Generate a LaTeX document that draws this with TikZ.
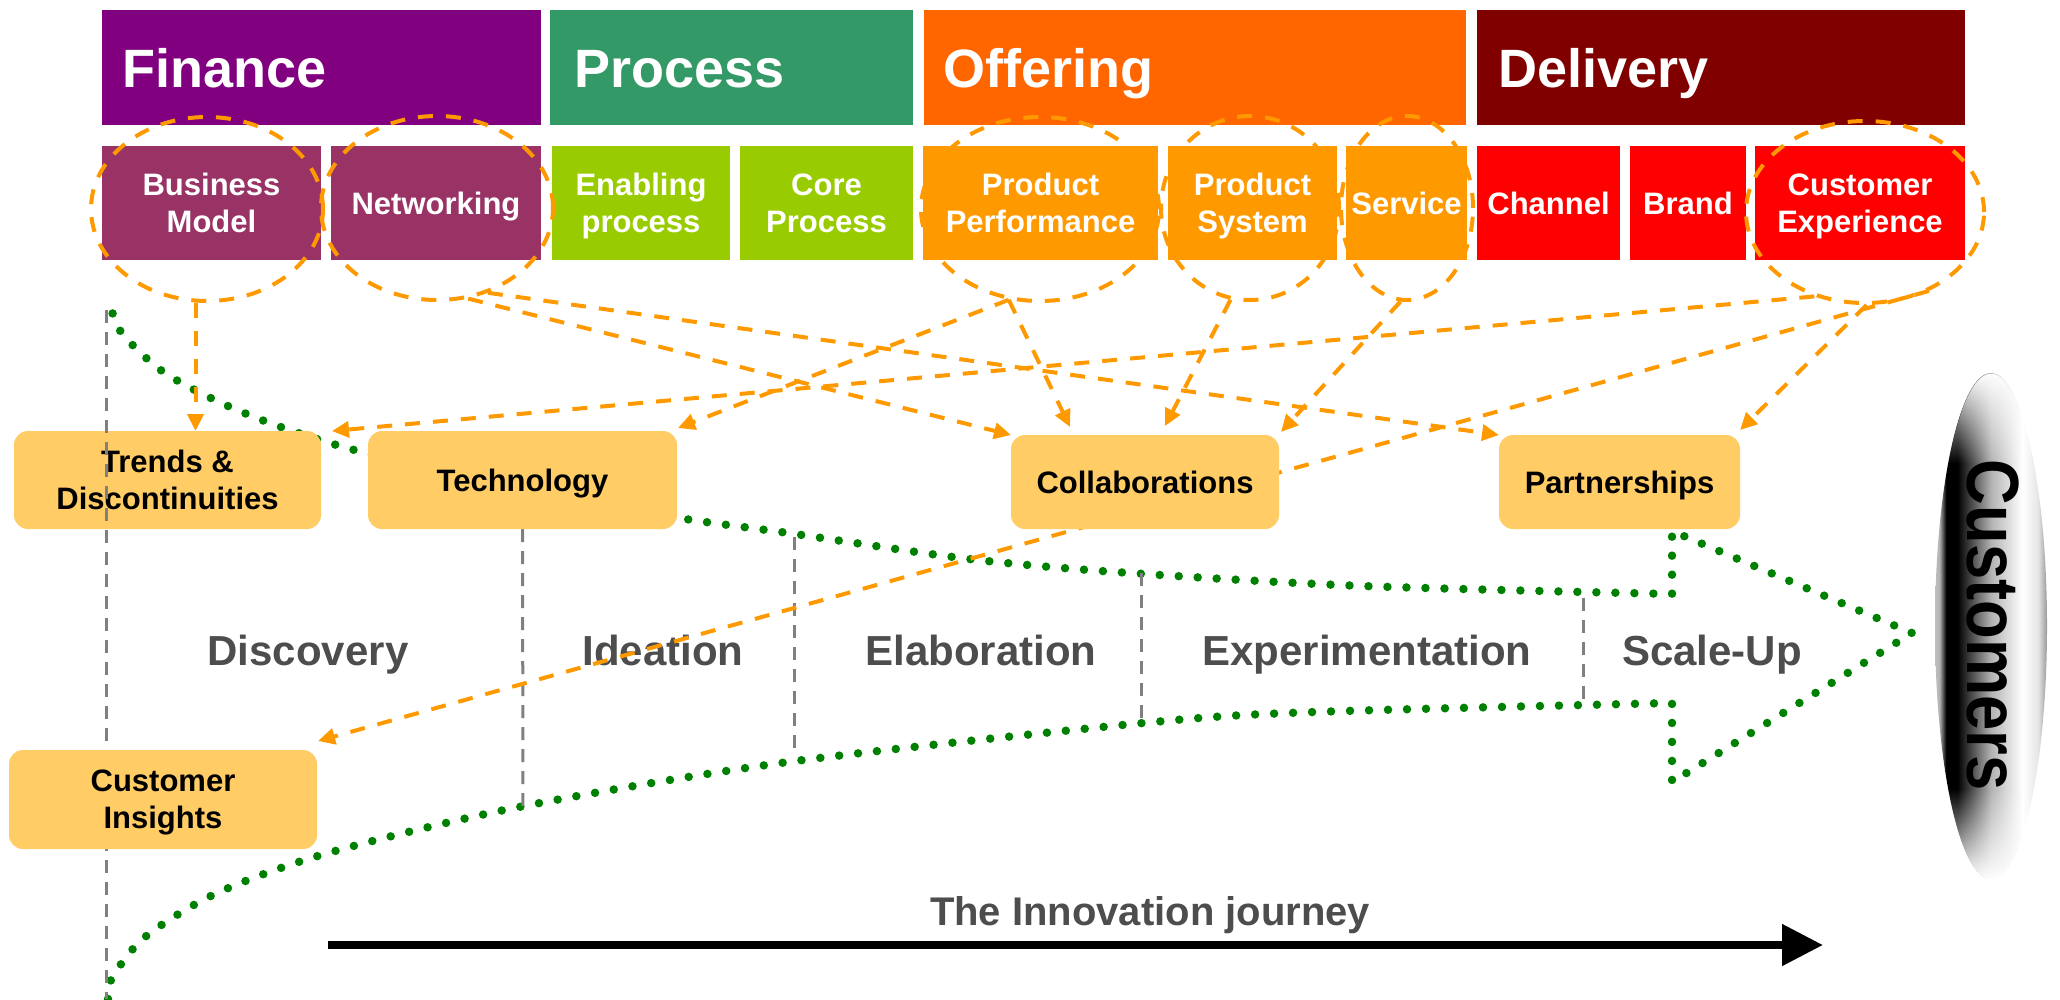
\documentclass[tikz,border=0pt]{standalone}
\usepackage{fontspec}
\setmainfont{Liberation Sans}
\usetikzlibrary{arrows.meta,shapes.geometric,fadings}
\definecolor{cFin}{HTML}{800080}
\definecolor{cProc}{HTML}{339966}
\definecolor{cOff}{HTML}{FF6600}
\definecolor{cDel}{HTML}{800000}
\definecolor{cFinS}{HTML}{993366}
\definecolor{cProcS}{HTML}{99CC00}
\definecolor{cOffS}{HTML}{FF9900}
\definecolor{cDelS}{HTML}{FF0000}
\definecolor{cY}{HTML}{FFCC66}
\definecolor{cOr}{HTML}{FF9900}
\definecolor{cGreen}{HTML}{008000}
\definecolor{cGray}{HTML}{808080}
\definecolor{cTxt}{HTML}{4D4D4D}
\pgfdeclarelayer{back}
\pgfdeclarelayer{mid}
\pgfdeclarelayer{front}
\pgfsetlayers{back,mid,main,front}
\pgfdeclarehorizontalshading{custshade}{100bp}{color(0bp)=(white); color(25bp)=(white!75!black); color(27bp)=(gray!60); color(30bp)=(black); color(35bp)=(black); color(50bp)=(gray!60); color(64bp)=(white); color(71bp)=(white!90!black); color(75bp)=(white!60!black); color(100bp)=(white)}
\pgfdeclareverticalshading{endfadesh}{100bp}{color(0bp)=(white); color(25bp)=(white); color(34bp)=(black); color(66bp)=(black); color(75bp)=(white); color(100bp)=(white)}
\pgfdeclarefading{endfade}{\pgfuseshading{endfadesh}}
\newcommand{\hdrfont}{\bfseries\fontsize{54pt}{60pt}\selectfont}
\newcommand{\subfont}{\bfseries\fontsize{31pt}{37pt}\selectfont}
\newcommand{\stfont}{\bfseries\fontsize{42pt}{50pt}\selectfont}
\tikzset{
  hdr/.style={anchor=north west, inner sep=0pt, outer sep=0pt},
  hdrtext/.style={anchor=base west, text=white, font=\hdrfont, inner sep=0pt},
  subbox/.style={anchor=north west, inner sep=0pt, outer sep=0pt, text=white, align=center, font=\subfont, text depth=0pt},
  ybox/.style={anchor=north west, fill=cY, rounded corners=14pt, inner sep=0pt, outer sep=0pt, align=center, font=\subfont, text=black, text depth=0pt},
  oell/.style={ellipse, draw=cOr, line width=4pt, dash pattern=on 15pt off 13pt, inner sep=0pt},
  oarr/.style={draw=cOr, line width=4pt, dash pattern=on 15pt off 13pt, -{Triangle[length=17pt,width=16pt]}},
  gdash/.style={draw=cGray, line width=3pt, dash pattern=on 13pt off 9pt},
  gdot/.style={draw=cGreen, line width=8.5pt, dash pattern=on 0pt off 19pt, line cap=round},
  stage/.style={anchor=base, text=cTxt, font=\stfont, inner sep=0pt},
}
\begin{document}
\begin{tikzpicture}[x=1pt,y=-1pt]
\useasboundingbox (0,0) rectangle (2060,999);
\begin{pgfonlayer}{back}
% header row
\node[hdr, fill=cFin, minimum width=439pt, minimum height=115pt] (finH) at (102,10) {};
\node[hdr, fill=cProc, minimum width=363pt, minimum height=115pt] (procH) at (550,10) {};
\node[hdr, fill=cOff, minimum width=542pt, minimum height=115pt] (offH) at (924,10) {};
\node[hdr, fill=cDel, minimum width=488pt, minimum height=115pt] (delH) at (1477,10) {};
\node[hdrtext] (finT) at (122,87) {Finance};
\node[hdrtext] (procT) at (574,87) {Process};
\node[hdrtext] (offT) at (943,87) {Offering};
\node[hdrtext] (delT) at (1498,87) {Delivery};
% sub row
\node[subbox, fill=cFinS, minimum width=219pt, minimum height=114pt] (bm) at (102,146) {Business\\Model};
\node[subbox, fill=cFinS, minimum width=210pt, minimum height=114pt] (nw) at (331,146) {Networking};
\node[subbox, fill=cProcS, minimum width=178pt, minimum height=114pt] (ep) at (552,146) {Enabling\\process};
\node[subbox, fill=cProcS, minimum width=173pt, minimum height=114pt] (cp) at (740,146) {Core\\Process};
\node[subbox, fill=cOffS, minimum width=235pt, minimum height=114pt] (pp) at (923,146) {Product\\Performance};
\node[subbox, fill=cOffS, minimum width=169pt, minimum height=114pt] (ps) at (1168,146) {Product\\System};
\node[subbox, fill=cOffS, minimum width=121pt, minimum height=114pt] (sv) at (1346,146) {Service};
\node[subbox, fill=cDelS, minimum width=143pt, minimum height=114pt] (ch) at (1477,146) {Channel};
\node[subbox, fill=cDelS, minimum width=116pt, minimum height=114pt] (br) at (1630,146) {Brand};
\node[subbox, fill=cDelS, minimum width=210pt, minimum height=114pt] (ce) at (1755,146) {Customer\\Experience};
% stage labels
\node[stage] (sDisc) at (308,665) {Discovery};
\node[stage] (sIdea) at (663,665) {Ideation};
\node[stage] (sElab) at (981,665) {Elaboration};
\node[stage] (sExp) at (1367,665) {Experimentation};
\node[stage] (sScale) at (1712,665) {Scale-Up};
% innovation journey
\node[anchor=base, text=cTxt, font=\bfseries\fontsize{40pt}{48pt}\selectfont, inner sep=0pt] (jour) at (1150,925) {The Innovation journey};
\coordinate (arrS) at (328,945);
\coordinate (arrE) at (1823,945);
\draw[line width=8pt, -{Triangle[length=41pt,width=40pt]}] (arrS) -- (arrE);
% green dotted arrow shape
\draw[gdot] plot[smooth] coordinates {(108,999) (112,978) (145,937) (217,893) (328,853) (519,807) (788,762) (1143,723) (1314,712) (1672,703)}
  -- (1672,782) -- (1912,633) -- (1672,531) -- (1672,594)
  -- plot[smooth] coordinates {(1672,594) (1363,586) (1130,573) (969,559) (788,533) (673,517) (520,488) (362,452) (278,426) (217,401) (162,371) (121,332) (109,300)};
% gray stage separators
\coordinate (g2b) at (523,810);
\coordinate (g3a) at (794,537);
\coordinate (g3b) at (794,752);
\coordinate (g4a) at (1141,573);
\coordinate (g4b) at (1141,726);
\coordinate (g5a) at (1583,598);
\coordinate (g5b) at (1583,700);
\draw[gdash] (g3a) -- (g3b);
\draw[gdash] (g4a) -- (g4b);
\draw[gdash] (g5a) -- (g5b);
\end{pgfonlayer}
% yellow boxes
\node[ybox, minimum width=307pt, minimum height=98pt] (trends) at (14,431) {Trends \&\\Discontinuities};
\node[ybox, minimum width=309pt, minimum height=98pt] (tech) at (368,431) {Technology};
\node[ybox, minimum width=268pt, minimum height=94pt] (collab) at (1011,435) {Collaborations};
\node[ybox, minimum width=241pt, minimum height=94pt] (partner) at (1499,435) {Partnerships};
\begin{pgfonlayer}{back}
\draw[gdash] (tech.south) -- (g2b);
\end{pgfonlayer}
% customers
\node[ellipse, minimum width=112pt, minimum height=506pt, inner sep=0pt, shading=custshade] (custE) at (1991,626) {};
\fill[white, path fading=endfade] (custE.center) ellipse [x radius=56pt, y radius=253pt];
\node[rotate=-90, inner sep=0pt, font=\bfseries\fontsize{74pt}{80pt}\selectfont] (custT) at (1993,625) {\scalebox{0.855}[1]{Customers}};
% dashed ellipses
\node[oell, minimum width=232pt, minimum height=184pt] (bmE) at (207,209) {};
\node[oell, minimum width=232pt, minimum height=184pt] (nwE) at (437,208) {};
\node[oell, minimum width=238pt, minimum height=184pt] (ppE) at (1040,209) {};
\node[oell, minimum width=178pt, minimum height=184pt] (psE) at (1250,208) {};
\node[oell, minimum width=132pt, minimum height=184pt] (svE) at (1407,208) {};
\node[oell, minimum width=238pt, minimum height=182pt] (ceE) at (1865,212) {};
% front: left separator over Trends box, then Customer Insights box
\begin{pgfonlayer}{front}
\coordinate (g1a) at (106,310);
\coordinate (g1b) at (106,999);
\draw[gdash] (g1a) -- (g1b);
\node[ybox, minimum width=308pt, minimum height=99pt] (ci) at (9,750) {Customer\\Insights};
\end{pgfonlayer}
% orange connectors
\begin{pgfonlayer}{mid}
\draw[oarr] (bmE.-97) -- (trends.north -| bmE.-97);
\draw[oarr] (nwE.-59) -- (partner.north west);
\draw[oarr] (nwE.-71) -- (collab.north west);
\draw[oarr] (ppE.-109) -- ([xshift=1pt,yshift=3pt]tech.north east);
\draw[oarr] (ppE.-109) -- ([xshift=59pt,yshift=8pt]collab.north west);
\draw[oarr] (psE.-102) -- ([xshift=154pt,yshift=9pt]collab.north west);
\draw[oarr] (svE.-94) -- ([xshift=2pt,yshift=3pt]collab.north east);
\draw[oarr] (ceE.-121) -- ([xshift=11pt]trends.north east);
\draw[oarr] (ceE.-89) -- ([yshift=5pt]partner.north east);
\draw[oarr] (ceE.-51) -- ([xshift=1pt,yshift=9pt]ci.north east);
\end{pgfonlayer}
\end{tikzpicture}
\end{document}
